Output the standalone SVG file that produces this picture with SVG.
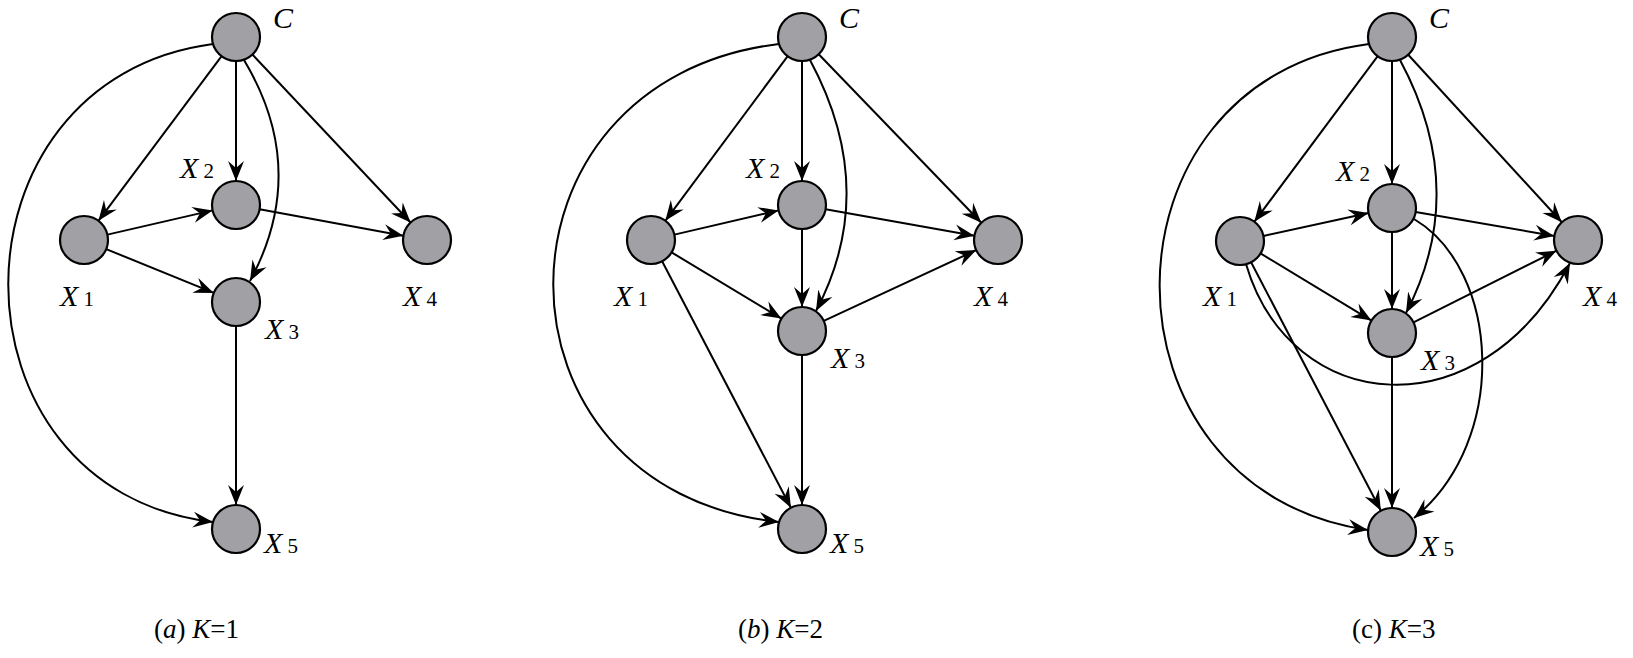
<svg xmlns="http://www.w3.org/2000/svg" width="1633" height="658" viewBox="0 0 1633 658">
<style>
.n{fill:#a0a0a5;stroke:#000;stroke-width:2.2}
.e{fill:none;stroke:#000;stroke-width:2;marker-end:url(#ar)}
.t{font-family:"Liberation Serif","Times New Roman",serif;font-style:italic;font-size:30px}
.s{font-style:normal;font-size:21px}
.cap{font-family:"Liberation Serif","Times New Roman",serif;font-size:27px}
.i{font-style:italic}
</style>
<defs><marker id="ar" markerUnits="userSpaceOnUse" markerWidth="24" markerHeight="20" viewBox="-20 -10 24 20" refX="0" refY="0" orient="auto"><path d="M0,0 L-20,-8 L-13,0 L-20,8 Z" fill="#000"/></marker></defs>
<g id="connectors">
<line class="e" x1="221.6" y1="56.2" x2="98.4" y2="220.8"/>
<line class="e" x1="236" y1="61" x2="236" y2="181"/>
<line class="e" x1="252.4" y1="54.5" x2="410.6" y2="222.5"/>
<line class="e" x1="107.4" y1="234.6" x2="212.6" y2="210.4"/>
<line class="e" x1="106.2" y1="249.1" x2="213.8" y2="292.9"/>
<line class="e" x1="259.6" y1="209.3" x2="403.4" y2="235.7"/>
<line class="e" x1="236" y1="326" x2="236" y2="505"/>
<path class="e" d="M244,60 Q310,170 250,281"/>
<path class="e" d="M213,44 C-60,80 -60,490 213,522"/>

<line class="e" x1="787.7" y1="56.2" x2="665.3" y2="220.8"/>
<line class="e" x1="802" y1="61" x2="802" y2="181"/>
<line class="e" x1="818.7" y1="54.3" x2="981.3" y2="222.7"/>
<path class="e" d="M810,60 Q880,190 816,311"/>
<path class="e" d="M779,44 C478,80 478,490 779,522"/>
<line class="e" x1="674.4" y1="234.6" x2="778.6" y2="210.4"/>
<line class="e" x1="671.6" y1="252.4" x2="781.4" y2="318.6"/>
<line class="e" x1="662.1" y1="261.3" x2="790.9" y2="507.7"/>
<line class="e" x1="825.6" y1="209.2" x2="974.4" y2="235.8"/>
<line class="e" x1="802" y1="229" x2="802" y2="307"/>
<line class="e" x1="823.8" y1="320.9" x2="976.2" y2="250.1"/>
<line class="e" x1="802" y1="355" x2="802" y2="505"/>

<line class="e" x1="1377.7" y1="56.2" x2="1254.3" y2="221.8"/>
<line class="e" x1="1392" y1="61" x2="1392" y2="184"/>
<line class="e" x1="1408.2" y1="54.7" x2="1561.8" y2="222.3"/>
<path class="e" d="M1400,60 Q1470,190 1406,313"/>
<path class="e" d="M1369,44 C1090,80 1090,490 1368,530"/>
<line class="e" x1="1263.4" y1="235.9" x2="1368.6" y2="213.1"/>
<line class="e" x1="1260.5" y1="253.4" x2="1371.5" y2="320.6"/>
<line class="e" x1="1251.1" y1="262.3" x2="1380.9" y2="510.7"/>
<path class="e" d="M1246,264 C1290,415 1480,435 1570,263"/>
<line class="e" x1="1415.7" y1="212.1" x2="1554.3" y2="235.9"/>
<line class="e" x1="1392" y1="232" x2="1392" y2="309"/>
<line class="e" x1="1413.5" y1="322.3" x2="1556.5" y2="250.7"/>
<line class="e" x1="1392" y1="357" x2="1392" y2="508"/>
<path class="e" d="M1414,219 C1500,270 1510,440 1414,518"/>
</g>

<g id="a-C"><circle class="n" cx="236" cy="37" r="24"/><text class="t" x="273" y="28">C</text></g>
<g id="a-X1"><circle class="n" cx="84" cy="240" r="24"/><text class="t" x="60" y="306">X<tspan class="s"> 1</tspan></text></g>
<g id="a-X2"><circle class="n" cx="236" cy="205" r="24"/><text class="t" x="180" y="178">X<tspan class="s"> 2</tspan></text></g>
<g id="a-X3"><circle class="n" cx="236" cy="302" r="24"/><text class="t" x="265" y="339">X<tspan class="s"> 3</tspan></text></g>
<g id="a-X4"><circle class="n" cx="427" cy="240" r="24"/><text class="t" x="403" y="306">X<tspan class="s"> 4</tspan></text></g>
<g id="a-X5"><circle class="n" cx="236" cy="529" r="24"/><text class="t" x="264" y="553">X<tspan class="s"> 5</tspan></text></g>

<g id="b-C"><circle class="n" cx="802" cy="37" r="24"/><text class="t" x="839" y="28">C</text></g>
<g id="b-X1"><circle class="n" cx="651" cy="240" r="24"/><text class="t" x="614" y="306">X<tspan class="s"> 1</tspan></text></g>
<g id="b-X2"><circle class="n" cx="802" cy="205" r="24"/><text class="t" x="746" y="178">X<tspan class="s"> 2</tspan></text></g>
<g id="b-X3"><circle class="n" cx="802" cy="331" r="24"/><text class="t" x="831" y="368">X<tspan class="s"> 3</tspan></text></g>
<g id="b-X4"><circle class="n" cx="998" cy="240" r="24"/><text class="t" x="974" y="306">X<tspan class="s"> 4</tspan></text></g>
<g id="b-X5"><circle class="n" cx="802" cy="529" r="24"/><text class="t" x="830" y="553">X<tspan class="s"> 5</tspan></text></g>

<g id="c-C"><circle class="n" cx="1392" cy="37" r="24"/><text class="t" x="1429" y="28">C</text></g>
<g id="c-X1"><circle class="n" cx="1240" cy="241" r="24"/><text class="t" x="1203" y="306">X<tspan class="s"> 1</tspan></text></g>
<g id="c-X2"><circle class="n" cx="1392" cy="208" r="24"/><text class="t" x="1336" y="181">X<tspan class="s"> 2</tspan></text></g>
<g id="c-X3"><circle class="n" cx="1392" cy="333" r="24"/><text class="t" x="1421" y="370">X<tspan class="s"> 3</tspan></text></g>
<g id="c-X4"><circle class="n" cx="1578" cy="240" r="24"/><text class="t" x="1583" y="306">X<tspan class="s"> 4</tspan></text></g>
<g id="c-X5"><circle class="n" cx="1392" cy="532" r="24"/><text class="t" x="1420" y="556">X<tspan class="s"> 5</tspan></text></g>

<text class="cap" x="154" y="638">(<tspan class="i">a</tspan>) <tspan class="i">K</tspan>=1</text>
<text class="cap" x="738" y="638">(<tspan class="i">b</tspan>) <tspan class="i">K</tspan>=2</text>
<text class="cap" x="1352" y="638">(c) <tspan class="i">K</tspan>=3</text>
</svg>
